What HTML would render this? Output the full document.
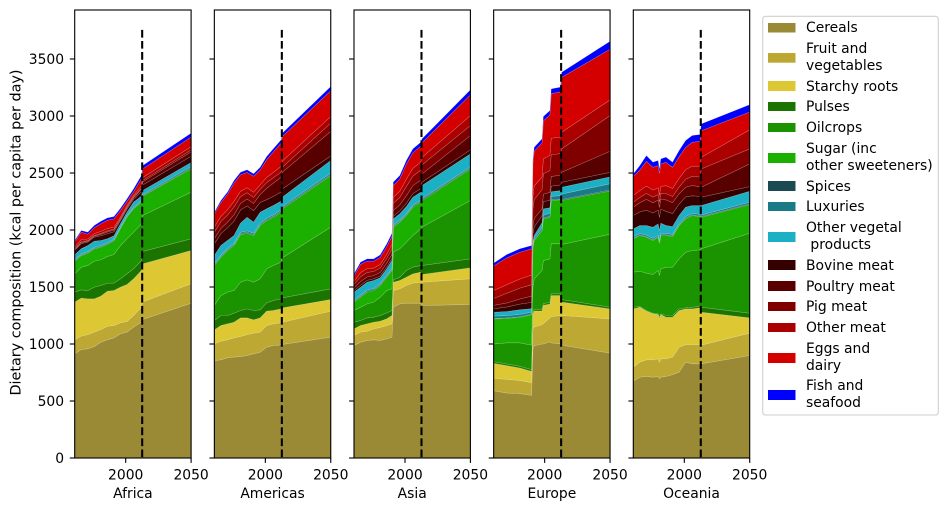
<!DOCTYPE html>
<html lang="en">
<head>
<meta charset="utf-8">
<title>Dietary composition by region</title>
<style>
html,body{margin:0;padding:0;background:#fff;}
svg{display:block;}
text{font-family:"DejaVu Sans","Liberation Sans",sans-serif;font-size:13.89px;fill:#000;}
.pre{white-space:pre;}
</style>
</head>
<body>
<svg id="chart" xmlns="http://www.w3.org/2000/svg" width="948" height="509" viewBox="0 0 948 509">
  <text transform="translate(20.5,232.5) rotate(-90)" text-anchor="middle" textLength="326" lengthAdjust="spacingAndGlyphs">Dietary composition (kcal per capita per day)</text>
  <g id="panels"></g>
  <g>
    <rect x="762.7" y="16.3" width="175.6" height="398.7" rx="2.8" fill="#fff" stroke="#cfcfcf" stroke-width="1.1"/>
    <g><rect x="768" y="23" width="27.5" height="9.5" fill="#9a8a35"/><text x="806" y="32">Cereals</text></g>
    <g><rect x="768" y="53" width="27.5" height="9.7" fill="#bca833"/><text x="806" y="53">Fruit and</text><text x="806" y="70">vegetables</text></g>
    <g><rect x="768" y="81" width="27.5" height="10" fill="#ddc733"/><text x="806" y="91">Starchy roots</text></g>
    <g><rect x="768" y="102" width="27.5" height="9" fill="#1c7400"/><text x="806" y="111">Pulses</text></g>
    <g><rect x="768" y="123" width="27.5" height="9" fill="#1b9200"/><text x="806" y="132">Oilcrops</text></g>
    <g><rect x="768" y="153" width="27.5" height="10" fill="#1bb000"/><text x="806" y="153">Sugar (inc</text><text x="806" y="170">other sweeteners)</text></g>
    <g><rect x="768" y="181" width="27.5" height="10" fill="#1c4a52"/><text x="806" y="191">Spices</text></g>
    <g><rect x="768" y="202" width="27.5" height="9" fill="#1a7a88"/><text x="806" y="211">Luxuries</text></g>
    <g><rect x="768" y="232" width="27.5" height="10" fill="#1cb0c5"/><text x="806" y="232">Other vegetal</text><text class="pre" x="806" y="249"> products</text></g>
    <g><rect x="768" y="260" width="27.5" height="10" fill="#350000"/><text x="806" y="270">Bovine meat</text></g>
    <g><rect x="768" y="281" width="27.5" height="10" fill="#580000"/><text x="806" y="291">Poultry meat</text></g>
    <g><rect x="768" y="302" width="27.5" height="9" fill="#800000"/><text x="806" y="311">Pig meat</text></g>
    <g><rect x="768" y="323" width="27.5" height="9" fill="#aa0000"/><text x="806" y="332">Other meat</text></g>
    <g><rect x="768" y="353" width="27.5" height="10" fill="#d40000"/><text x="806" y="353">Eggs and</text><text x="806" y="370">dairy</text></g>
    <g><rect x="768" y="390" width="27.5" height="10" fill="#0000ff"/><text x="806" y="390">Fish and</text><text x="806" y="407">seafood</text></g>
  </g>
</svg>
<script>
// ---- tick labels ----
const xTickLabels = [2000, 2050];
const yTickLabels = [0, 500, 1000, 1500, 2000, 2500, 3000, 3500];
const historyEndYear = [2012.6];
const dashedLineTop = [3755];
const xDomain = [1961, 2050];

// ---- Africa ----
const africaYears = [1961,1966,1971,1976,1981,1986,1991,1996,2001,2006,2012,2013,2050];
const africaCereals = [914,952,958,978,1016,1037,1054,1089,1104,1148,1192,1215,1358];
const africaFruit = [123,117,125,126,111,119,108,97,93,102,131,155,170];
const africaStarchy = [330,333,313,292,293,307,307,313,325,321,322,333,292];
const africaPulses = [88,73,73,103,93,71,65,73,94,89,88,109,103];
const africaOilcrops = [160,199,220,228,226,234,251,292,307,321,321,315,409];
const africaSugar = [112,102,108,108,111,105,120,148,190,205,190,170,205];
const africaSpices = [6,6,6,6,6,6,6,6,6,6,6,6,8];
const africaLuxuries = [8,8,8,8,8,8,8,8,8,8,8,8,12];
const africaOtherVeg = [42,45,53,53,44,36,30,30,30,44,39,36,35];
const africaBovine = [38,45,30,36,42,44,36,26,26,25,40,48,55];
const africaPoultry = [8,10,8,9,12,16,15,12,13,14,22,28,38];
const africaPig = [6,8,5,6,8,9,8,6,6,6,9,12,18];
const africaOtherMeat = [14,18,14,15,18,20,17,13,13,13,20,25,28];
const africaEggs = [47,65,42,53,67,74,73,58,37,34,60,76,84];
const africaFish = [12,15,18,20,22,20,20,20,22,25,30,30,35];

// ---- Americas ----
const americasYears = [1961,1966,1971,1976,1981,1986,1991,1996,2001,2006,2012,2013,2050];
const americasCereals = [855,861,879,885,890,899,914,928,972,987,992,996,1060];
const americasFruit = [146,164,158,169,176,184,181,176,190,190,194,195,228];
const americasStarchy = [123,137,140,137,163,146,117,125,126,117,122,126,102];
const americasPulses = [82,88,73,79,65,79,82,71,73,88,88,88,94];
const americasOilcrops = [132,175,205,199,248,255,248,272,298,307,322,351,541];
const americasSugar = [351,337,365,395,418,409,410,467,424,423,438,430,453];
const americasSpices = [8,8,8,8,8,8,8,8,8,8,8,8,8];
const americasLuxuries = [10,10,10,10,12,12,12,12,12,12,12,12,14];
const americasOtherVeg = [70,84,70,70,80,120,97,97,83,83,77,82,110];
const americasBovine = [102,105,110,125,115,100,100,85,80,80,80,73,40];
const americasPoultry = [44,45,50,55,58,60,65,70,100,115,130,146,215];
const americasPig = [58,60,62,68,60,55,52,45,50,48,45,44,73];
const americasOtherMeat = [44,45,47,52,47,44,45,40,46,46,50,54,58];
const americasEggs = [116,122,135,160,145,135,140,130,155,180,203,215,225];
const americasFish = [15,18,20,22,22,22,22,25,28,28,30,30,38];

// ---- Asia ----
const asiaYears = [1961,1966,1971,1976,1981,1986,1990,1991,1996,2001,2006,2012,2013,2050];
const asiaCereals = [987,1016,1031,1037,1031,1045,1060,1323,1352,1358,1358,1358,1338,1347];
const asiaFruit = [88,88,81,96,114,117,117,146,132,155,176,184,204,225];
const asiaStarchy = [58,58,65,58,55,58,73,73,73,73,81,88,68,96];
const asiaPulses = [58,44,52,44,50,53,44,21,29,59,59,59,79,79];
const asiaOilcrops = [103,117,123,132,161,196,190,243,249,248,278,321,336,512];
const asiaSugar = [73,88,103,102,102,117,161,219,234,234,248,234,234,277];
const asiaSpices = [8,8,8,8,8,8,8,8,8,8,8,8,8,8];
const asiaLuxuries = [10,10,10,10,10,10,10,10,10,10,10,10,10,10];
const asiaOtherVeg = [69,69,69,70,50,55,69,54,55,60,69,69,113,114];
const asiaBovine = [14,18,16,15,16,17,18,25,25,30,32,32,30,35];
const asiaPoultry = [24,32,30,28,30,33,37,50,53,65,70,75,72,125];
const asiaPig = [30,42,40,36,38,42,46,62,66,80,84,88,80,88];
const asiaOtherMeat = [25,36,33,30,32,35,38,52,54,66,68,70,65,88];
const asiaEggs = [50,72,66,61,63,67,76,104,108,132,136,139,128,181];
const asiaFish = [18,20,20,20,22,25,25,30,30,32,35,35,35,45];

// ---- Europe ----
const europeYears = [1961,1971,1981,1990,1991,1992,1998,1999,2004,2005,2012,2013,2050];
const europeCereals = [590,570,565,550,960,985,1000,1000,1020,1010,1000,990,920];
const europeFruit = [110,120,115,110,170,165,170,180,210,230,250,260,300];
const europeStarchy = [130,120,110,100,130,140,120,160,120,185,175,117,88];
const europePulses = [15,15,15,15,15,15,15,15,15,15,15,23,15];
const europeOilcrops = [155,185,205,215,225,267,340,377,382,439,439,483,640];
const europeSugar = [220,215,225,268,350,336,351,366,366,380,386,386,380];
const europeSpices = [4,4,4,4,5,5,6,6,6,6,6,8,8];
const europeLuxuries = [20,20,20,18,15,15,20,25,30,30,30,48,55];
const europeOtherVeg = [35,36,41,30,25,24,43,56,46,40,44,60,60];
const europeBovine = [30,40,50,55,70,75,60,65,65,50,50,44,40];
const europePoultry = [30,35,45,55,70,75,60,65,70,85,85,88,185];
const europePig = [60,85,95,100,150,165,170,180,190,190,190,205,313];
const europeOtherMeat = [70,75,80,85,110,120,110,130,135,145,145,146,137];
const europeEggs = [215,235,235,229,285,304,300,333,353,391,396,481,445];
const europeFish = [25,30,30,30,35,35,35,38,40,42,42,45,70];

// ---- Oceania ----
const oceaniaYears = [1961,1966,1971,1976,1980,1981,1982,1986,1991,1996,2001,2006,2012,2013,2050];
const oceaniaCereals = [674,709,715,709,715,695,709,715,732,753,841,826,826,826,899];
const oceaniaFruit = [123,132,146,152,155,146,161,155,153,219,154,169,169,164,196];
const oceaniaStarchy = [511,482,427,404,389,380,389,365,350,322,313,313,322,289,134];
const oceaniaPulses = [15,6,6,5,5,14,5,15,15,14,9,15,12,44,41];
const oceaniaOilcrops = [307,310,327,340,381,365,395,424,424,439,488,497,497,512,702];
const oceaniaSugar = [293,313,316,298,292,284,293,278,269,292,293,307,293,278,251];
const oceaniaSpices = [6,6,6,6,6,6,6,6,6,6,6,6,6,6,6];
const oceaniaLuxuries = [12,12,12,12,12,12,12,12,12,12,12,12,12,12,15];
const oceaniaOtherVeg = [69,69,84,98,99,93,90,69,69,70,84,70,78,84,96];
const oceaniaBovine = [117,120,135,125,120,115,122,125,115,100,90,85,80,73,41];
const oceaniaPoultry = [73,80,95,90,88,88,90,100,95,90,85,90,85,88,199];
const oceaniaPig = [44,47,52,50,48,48,50,55,55,60,70,80,85,160,132];
const oceaniaOtherMeat = [58,60,65,62,60,58,60,70,70,75,85,90,95,102,167];
const oceaniaEggs = [168,180,217,199,195,193,197,205,185,190,195,209,218,233,156];
const oceaniaFish = [22,40,50,45,45,40,45,45,45,55,60,60,60,60,65];

// ---- category names and colours ----
const categoryKeys = ['cereals','fruit-and-vegetables','starchy-roots','pulses','oilcrops','sugar','spices','luxuries','other-vegetal-products','bovine-meat','poultry-meat','pig-meat','other-meat','eggs-and-dairy','fish-and-seafood'];
const categoryColors = ['#9a8a35','#bca833','#ddc733','#1c7400','#1b9200','#1bb000','#1c4a52','#1a7a88','#1cb0c5','#350000','#580000','#800000','#aa0000','#d40000','#0000ff'];

const regionNames = ['Africa','Americas','Asia','Europe','Oceania'];
const regionYears = [africaYears, americasYears, asiaYears, europeYears, oceaniaYears];
const regionSeries = [
  [africaCereals,africaFruit,africaStarchy,africaPulses,africaOilcrops,africaSugar,africaSpices,africaLuxuries,africaOtherVeg,africaBovine,africaPoultry,africaPig,africaOtherMeat,africaEggs,africaFish],
  [americasCereals,americasFruit,americasStarchy,americasPulses,americasOilcrops,americasSugar,americasSpices,americasLuxuries,americasOtherVeg,americasBovine,americasPoultry,americasPig,americasOtherMeat,americasEggs,americasFish],
  [asiaCereals,asiaFruit,asiaStarchy,asiaPulses,asiaOilcrops,asiaSugar,asiaSpices,asiaLuxuries,asiaOtherVeg,asiaBovine,asiaPoultry,asiaPig,asiaOtherMeat,asiaEggs,asiaFish],
  [europeCereals,europeFruit,europeStarchy,europePulses,europeOilcrops,europeSugar,europeSpices,europeLuxuries,europeOtherVeg,europeBovine,europePoultry,europePig,europeOtherMeat,europeEggs,europeFish],
  [oceaniaCereals,oceaniaFruit,oceaniaStarchy,oceaniaPulses,oceaniaOilcrops,oceaniaSugar,oceaniaSpices,oceaniaLuxuries,oceaniaOtherVeg,oceaniaBovine,oceaniaPoultry,oceaniaPig,oceaniaOtherMeat,oceaniaEggs,oceaniaFish]
];

// ---- layout and axis functions ----
const NS = 'http://www.w3.org/2000/svg';
const firstPanelLeft = 74.7, panelPitch = 139.65, panelWidth = 116.4;
const plotBottom = 458, plotTop = 10, pxPerKcal = 0.114;

function panelLeft(i) { return firstPanelLeft + i * panelPitch; }
function xScale(i, year) { return panelLeft(i) + (year - xDomain[0]) / (xDomain[1] - xDomain[0]) * panelWidth; }
function yScale(value) { return plotBottom - value * pxPerKcal; }

function svgEl(tag, attrs, parent) {
  const el = document.createElementNS(NS, tag);
  for (const k in attrs) el.setAttribute(k, attrs[k]);
  parent.appendChild(el);
  return el;
}

const panels = document.getElementById('panels');

regionNames.forEach(function (region, i) {
  const key = region.toLowerCase();
  const years = regionYears[i];
  const series = regionSeries[i];

  const panel = svgEl('g', {}, panels);
  
  

  const defs = svgEl('defs', {}, panel);
  const clip = svgEl('clipPath', { id: 'clip-' + key }, defs);
  svgEl('rect', { x: panelLeft(i), y: plotTop, width: panelWidth, height: plotBottom - plotTop }, clip);

  const areas = svgEl('g', { 'clip-path': 'url(#clip-' + key + ')' }, panel);
  
  

  let baseline = years.map(function () { return 0; });
  series.forEach(function (values, c) {
    const top = baseline.map(function (b, t) { return b + values[t]; });
    let d = '';
    years.forEach(function (y, t) {
      d += (t ? 'L' : 'M') + xScale(i, y).toFixed(2) + ' ' + yScale(top[t]).toFixed(2);
    });
    for (let t = years.length - 1; t >= 0; t--) {
      d += 'L' + xScale(i, years[t]).toFixed(2) + ' ' + yScale(baseline[t]).toFixed(2);
    }
    d += 'Z';
    const area = svgEl('path', { d: d, fill: categoryColors[c], stroke: 'rgba(255,255,255,0.22)', 'stroke-width': 0.6 }, areas);
    
    
    baseline = top;
  });

  // dashed marker between history and projection
  const dash = svgEl('line', {
    x1: xScale(i, historyEndYear[0]), x2: xScale(i, historyEndYear[0]),
    y1: yScale(dashedLineTop[0]), y2: yScale(0),
    stroke: '#000', 'stroke-width': 2.08, 'stroke-dasharray': '7.71 3.33'
  }, panel);
  
  

  // frame
  const frame = svgEl('rect', {
    x: panelLeft(i), y: plotTop, width: panelWidth, height: plotBottom - plotTop,
    fill: 'none', stroke: '#000', 'stroke-width': 1.11
  }, panel);
  
  

  // y ticks
  yTickLabels.forEach(function (v) {
    const tick = svgEl('line', {
      x1: panelLeft(i) - 4.9, x2: panelLeft(i), y1: yScale(v), y2: yScale(v),
      stroke: '#000', 'stroke-width': 1.11
    }, panel);
    
    
    if (i === 0) {
      const label = svgEl('text', { x: panelLeft(i) - 10.6, y: yScale(v) + 5.1, 'text-anchor': 'end' }, panel);
      
      
      label.textContent = String(v);
    }
  });

  // x ticks
  xTickLabels.forEach(function (v) {
    const tick = svgEl('line', {
      x1: xScale(i, v), x2: xScale(i, v), y1: plotBottom, y2: plotBottom + 4.9,
      stroke: '#000', 'stroke-width': 1.11
    }, panel);
    
    
    const label = svgEl('text', { x: xScale(i, v), y: 479.5, 'text-anchor': 'middle' }, panel);
    
    
    label.textContent = String(v);
  });

  // region title
  const title = svgEl('text', { x: panelLeft(i) + panelWidth / 2, y: 498, 'text-anchor': 'middle' }, panel);
  
  
  title.textContent = region;
});
</script>
</body>
</html>
